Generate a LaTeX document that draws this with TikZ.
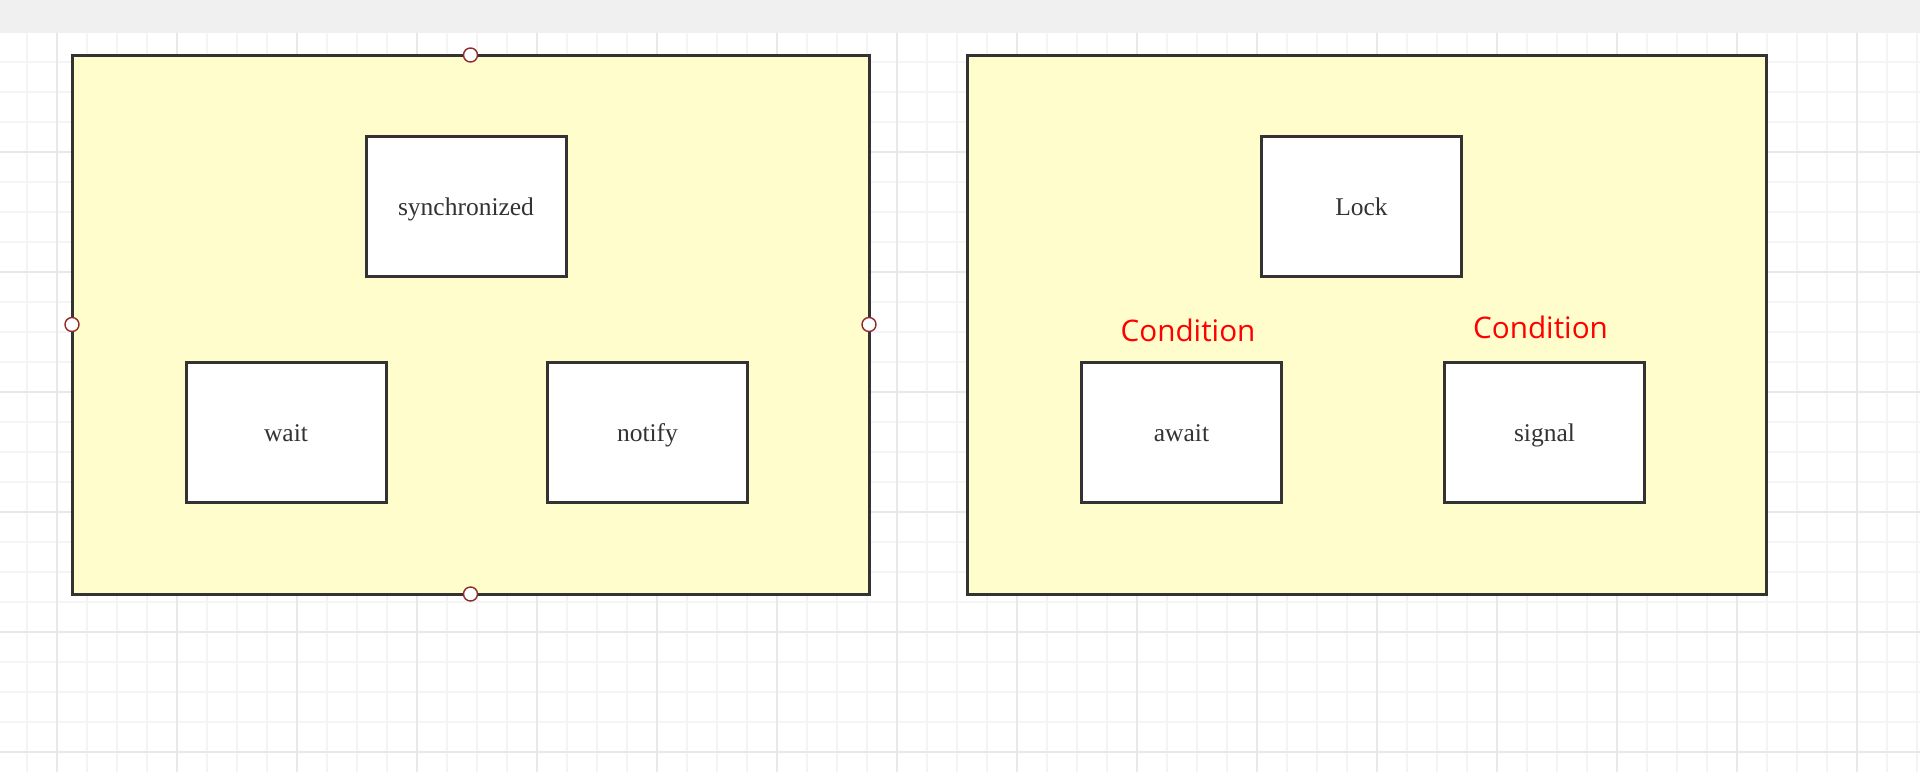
\documentclass[tikz,border=0pt]{standalone}
\usepackage{fontspec}
\setmainfont{Liberation Serif}
\newfontfamily\condfont{Open Sans}
\usetikzlibrary{positioning}
\definecolor{pagebar}{HTML}{F0F0F0}
\definecolor{gridminor}{HTML}{F4F4F4}
\definecolor{gridmajor}{HTML}{E8E8E8}
\definecolor{panelfill}{HTML}{FFFDCC}
\definecolor{edgegray}{HTML}{333333}
\definecolor{handlered}{HTML}{8E2B2B}
\begin{document}
\begin{tikzpicture}[x=1pt,y=-1pt,
  panel/.style={draw=edgegray, line width=3pt, fill=panelfill, minimum width=#1,
    minimum height=539pt, inner sep=0pt, outer sep=0pt},
  call/.style={draw=edgegray, line width=3pt, fill=white, minimum width=200pt,
    minimum height=140pt, inner sep=0pt, text=edgegray, text height=21pt, text depth=3pt,
    font=\fontsize{25.5pt}{30pt}\selectfont},
  cond/.style={inner sep=0pt, text=red, font=\condfont\fontsize{29.7pt}{34pt}\selectfont},
  handle/.style={circle, draw=handlered, fill=white, line width=1.4pt,
    minimum size=14pt, inner sep=0pt}]
\useasboundingbox (0,0) rectangle (1920,772);
\fill[white] (0,0) rectangle (1920,772);
% grid
\foreach \gx in {27,57,...,1917} \draw[gridminor, line width=1.5pt] (\gx,32) -- (\gx,772);
\foreach \gy in {62,92,...,752} \draw[gridminor, line width=1.5pt] (0,\gy) -- (1920,\gy);
\foreach \gx in {57,177,...,1857} \draw[gridmajor, line width=1.5pt] (\gx,32) -- (\gx,772);
\foreach \gy in {152,272,...,752} \draw[gridmajor, line width=1.5pt] (0,\gy) -- (1920,\gy);
\fill[pagebar] (0,0) rectangle (1920,33);
% panels
\node[panel=797pt] (syncpanel) at (470.5,324.5) {};
\node[panel=799pt] (lockpanel) at (1366.5,324.5) {};
\node[call] (sync) at (466,206) {synchronized};
\node[call] (wait) at (286,432) {wait};
\node[call] (notify) at (647.5,432) {notify};
\node[call] (lock) at (1361.5,206) {Lock};
\node[call] (await) at (1181.5,432) {await};
\node[call] (signal) at (1544.5,432) {signal};
\node[cond, above=19pt of await, xshift=6.5pt] (awaitcond) {Condition};
\node[cond, above=22pt of signal, xshift=-4pt] (signalcond) {Condition};
% selection handles
\node[handle] (hnorth) at (syncpanel.north) {};
\node[handle] (hsouth) at (syncpanel.south) {};
\node[handle] (hwest) at (syncpanel.west) {};
\node[handle] (heast) at (syncpanel.east) {};
\end{tikzpicture}
\end{document}
